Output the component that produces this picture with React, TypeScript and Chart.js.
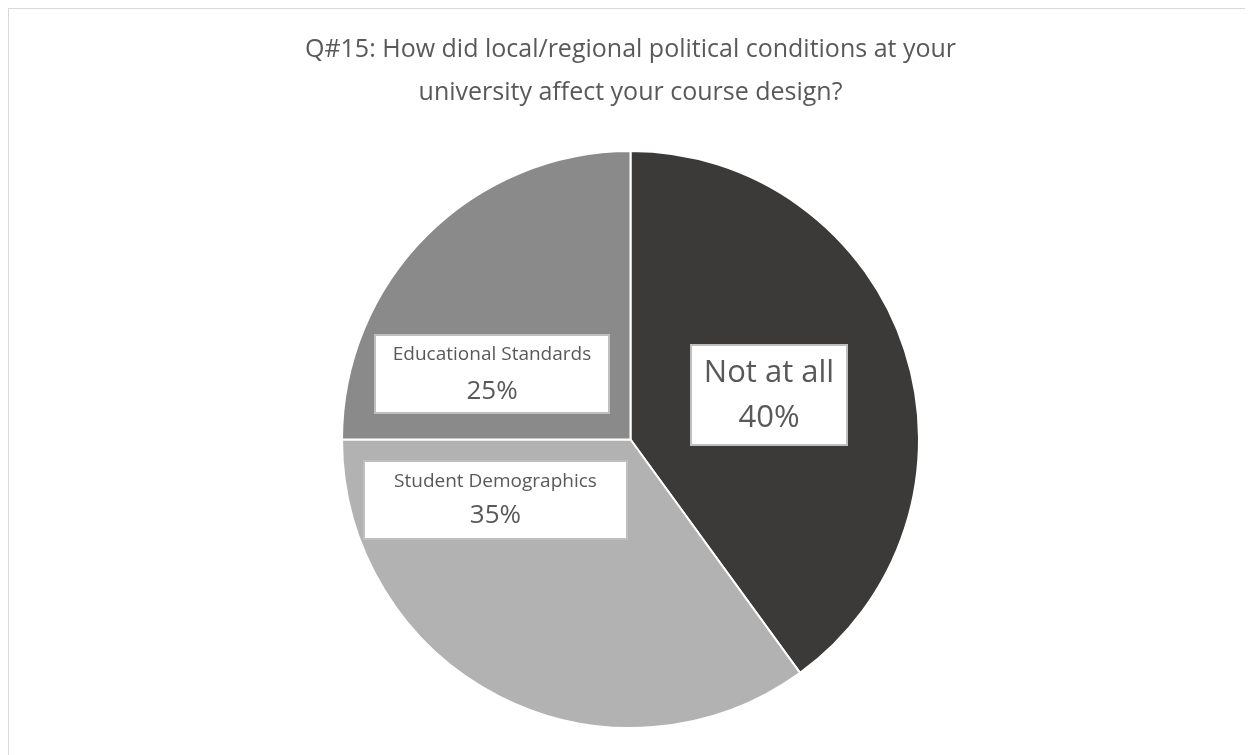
import React, { useEffect, useRef } from "react";
import { Chart, registerables } from "chart.js";

Chart.register(...registerables);

const titleLines = [
  "Q#15: How did local/regional political conditions at your",
  "university affect your course design?",
];
const categories = ["Not at all", "Student Demographics", "Educational Standards"];
const values = [40, 35, 25];
const percentLabels = ["40%", "35%", "25%"];
const colors = ["#3B3A38", "#B2B2B2", "#8A8A8A"];

// label box placement (relative to pie centre, in units of radius) and styling
const labelStyles = [
  { fx: 0.48, fy: -0.154, w: 156, h: 100, nameSize: 31, pctSize: 31, nameDy: -22, pctDy: 23 },
  { fx: -0.468, fy: 0.21, w: 263, h: 78, nameSize: 19, pctSize: 26, nameDy: -18, pctDy: 16 },
  { fx: -0.48, fy: -0.227, w: 234, h: 78, nameSize: 19, pctSize: 26, nameDy: -19, pctDy: 18 },
];

const FONT = "'Open Sans', 'Noto Sans', sans-serif";
const TEXT = "#595959";

const overlayPlugin = {
  id: "overlay",
  afterDraw(chart: any) {
    const ctx = chart.ctx as CanvasRenderingContext2D;
    const meta = chart.getDatasetMeta(0);
    const arc0 = meta.data[0] as any;
    const cx = arc0.x;
    const cy = arc0.y;
    const r = arc0.outerRadius;
    ctx.save();
    // title
    ctx.fillStyle = TEXT;
    ctx.textAlign = "center";
    ctx.textBaseline = "middle";
    ctx.font = `25px ${FONT}`;
    ctx.fillText(titleLines[0], cx, 41);
    ctx.fillText(titleLines[1], cx, 84);
    // labels
    meta.data.forEach((_a: any, i: number) => {
      const s = labelStyles[i];
      const bx = cx + s.fx * r;
      const by = cy + s.fy * r;
      const x0 = Math.round(bx - s.w / 2);
      const y0 = Math.round(by - s.h / 2);
      ctx.fillStyle = "#FFFFFF";
      ctx.fillRect(x0, y0, s.w, s.h);
      ctx.strokeStyle = "#BFBFBF";
      ctx.lineWidth = 2;
      ctx.strokeRect(x0, y0, s.w, s.h);
      ctx.fillStyle = TEXT;
      ctx.font = `${s.nameSize}px ${FONT}`;
      ctx.fillText(categories[i], bx, by + s.nameDy);
      ctx.font = `${s.pctSize}px ${FONT}`;
      ctx.fillText(percentLabels[i], bx, by + s.pctDy);
    });
    ctx.restore();
  },
};

export default function App() {
  const ref = useRef<HTMLCanvasElement | null>(null);
  useEffect(() => {
    document.body.style.overflow = "hidden";
    const chart = new Chart(ref.current as HTMLCanvasElement, {
      type: "pie",
      data: {
        labels: categories,
        datasets: [
          {
            data: values,
            backgroundColor: colors,
            borderColor: "#FFFFFF",
            borderWidth: 2,
            radius: 288.5,
            hoverOffset: 0,
          } as any,
        ],
      },
      options: {
        animation: false,
        responsive: false,
        events: [],
        layout: { padding: { left: 0, right: 1, top: 125, bottom: 10 } },
        plugins: {
          legend: { display: false },
          title: { display: false },
          tooltip: { enabled: false },
        },
      },
      plugins: [overlayPlugin],
    });
    return () => chart.destroy();
  }, []);
  return (
    <div
      style={{
        width: 1245,
        height: 747,
        boxSizing: "border-box",
        borderTop: "1px solid #D9D9D9",
        borderLeft: "1px solid #D9D9D9",
        background: "#FFFFFF",
        position: "relative",
        overflow: "hidden",
      }}
    >
      <canvas ref={ref} width={1244} height={746} style={{ display: "block" }} />
    </div>
  );
}
